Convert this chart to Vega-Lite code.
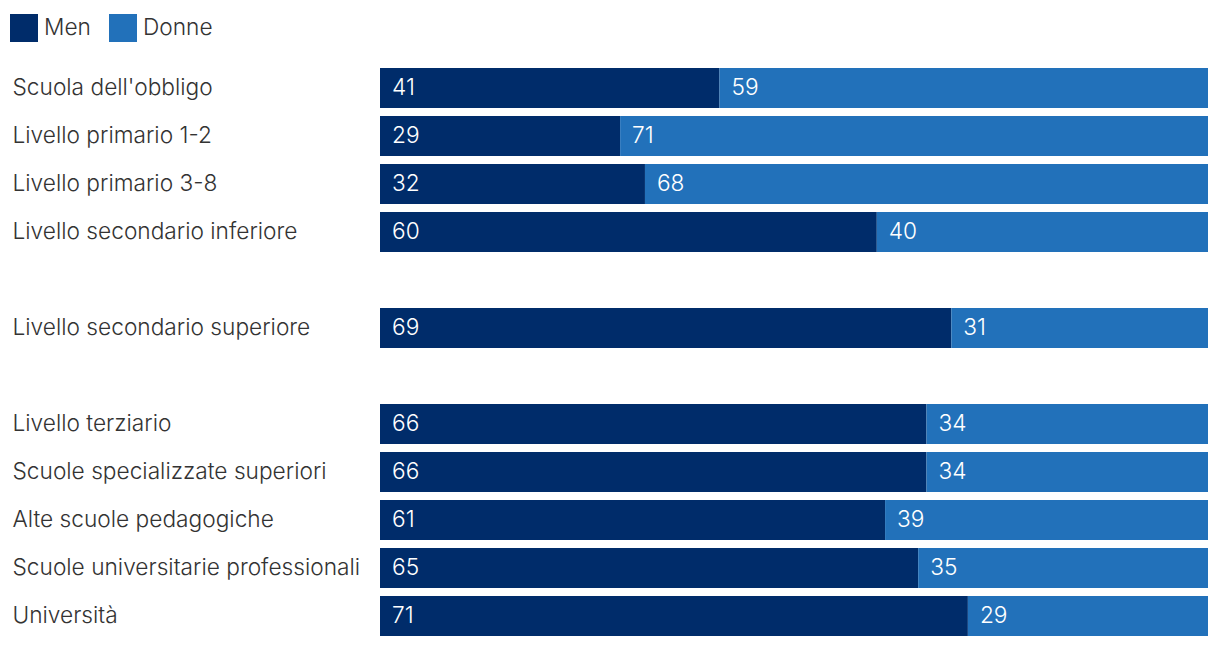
{
  "$schema": "https://vega.github.io/schema/vega-lite/v6.json",
  "width": 828,
  "height": 576,
  "autosize": {"type": "none"},
  "padding": {"left": 380, "top": 64, "right": 12, "bottom": 8},
  "background": "white",
  "config": {
    "view": {"stroke": null},
    "font": "Inter",
    "text": {"font": "Inter"}
  },
  "data": {
    "values": [
      {"cat": "Scuola dell'obbligo", "gender": "Men", "value": 41},
      {"cat": "Scuola dell'obbligo", "gender": "Donne", "value": 59},
      {"cat": "Livello primario 1-2", "gender": "Men", "value": 29},
      {"cat": "Livello primario 1-2", "gender": "Donne", "value": 71},
      {"cat": "Livello primario 3-8", "gender": "Men", "value": 32},
      {"cat": "Livello primario 3-8", "gender": "Donne", "value": 68},
      {"cat": "Livello secondario inferiore", "gender": "Men", "value": 60},
      {"cat": "Livello secondario inferiore", "gender": "Donne", "value": 40},
      {"cat": "Livello secondario superiore", "gender": "Men", "value": 69},
      {"cat": "Livello secondario superiore", "gender": "Donne", "value": 31},
      {"cat": "Livello terziario", "gender": "Men", "value": 66},
      {"cat": "Livello terziario", "gender": "Donne", "value": 34},
      {"cat": "Scuole specializzate superiori", "gender": "Men", "value": 66},
      {"cat": "Scuole specializzate superiori", "gender": "Donne", "value": 34},
      {"cat": "Alte scuole pedagogiche", "gender": "Men", "value": 61},
      {"cat": "Alte scuole pedagogiche", "gender": "Donne", "value": 39},
      {"cat": "Scuole universitarie professionali", "gender": "Men", "value": 65},
      {"cat": "Scuole universitarie professionali", "gender": "Donne", "value": 35},
      {"cat": "Università", "gender": "Men", "value": 71},
      {"cat": "Università", "gender": "Donne", "value": 29}
    ]
  },
  "transform": [
    {"stack": "value", "groupby": ["cat"], "sort": [{"field": "gender", "order": "descending"}], "as": ["v0", "v1"]}
  ],
  "encoding": {
    "y": {
      "field": "cat",
      "type": "nominal",
      "title": null,
      "scale": {
        "domain": ["Scuola dell'obbligo", "Livello primario 1-2", "Livello primario 3-8", "Livello secondario inferiore", " ", "Livello secondario superiore", "  ", "Livello terziario", "Scuole specializzate superiori", "Alte scuole pedagogiche", "Scuole universitarie professionali", "Università"],
        "paddingInner": 0.1667,
        "paddingOuter": 0.0833
      },
      "axis": {
        "domain": false,
        "ticks": false,
        "labelAlign": "left",
        "labelBaseline": "middle",
        "labelPadding": 368,
        "labelLimit": 0,
        "labelFontSize": 22.7,
        "labelFont": "Inter",
        "labelFontWeight": 300,
        "labelColor": "#333333"
      }
    }
  },
  "layer": [
    {
      "mark": {"type": "bar"},
      "encoding": {
        "x": {"field": "v0", "type": "quantitative", "scale": {"domain": [0, 100], "nice": false}, "axis": null},
        "x2": {"field": "v1"},
        "color": {
          "field": "gender",
          "type": "nominal",
          "scale": {"domain": ["Men", "Donne"], "range": ["#002c6a", "#2271ba"]},
          "legend": {
            "title": null,
            "orient": "none",
            "direction": "horizontal",
            "legendX": -370,
            "legendY": -50,
            "padding": 0,
            "symbolType": "square",
            "symbolSize": 784,
            "symbolStrokeWidth": 0,
            "symbolOpacity": 1,
            "labelFontSize": 22.7,
            "labelFont": "Inter",
            "labelFontWeight": 300,
            "labelColor": "#333333",
            "labelOffset": 6,
            "columnPadding": 18
          }
        }
      }
    },
    {
      "mark": {"type": "text", "align": "left", "baseline": "middle", "dx": 12, "fontSize": 22.7, "font": "Inter", "fontWeight": 300, "color": "white"},
      "encoding": {
        "x": {"field": "v0", "type": "quantitative"},
        "text": {"field": "value", "type": "quantitative"}
      }
    }
  ]
}
